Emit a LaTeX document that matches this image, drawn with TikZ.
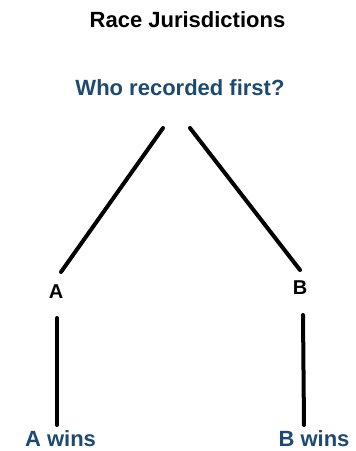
\documentclass[tikz,border=0pt]{standalone}
\usepackage{fontspec}
\setmainfont{Liberation Sans}
\definecolor{navy}{HTML}{1F4A6E}
\begin{document}
\begin{tikzpicture}[x=1pt,y=-1pt,
  lbl/.style={anchor=base,inner sep=0pt,font=\bfseries\fontsize{22}{24}\selectfont},
  blue/.style={lbl,text=navy},
  conn/.style={line width=4pt,line cap=round,black}]
\useasboundingbox (0,0) rectangle (356,451);
\node[lbl] (title) at (187.5,27) {Race Jurisdictions};
\node[blue] (who) at (180,95) {Who recorded first?};
\node[lbl,font=\bfseries\fontsize{20}{22}\selectfont] (A) at (56,298) {A};
\node[lbl,font=\bfseries\fontsize{20}{22}\selectfont] (B) at (300,294) {B};
\node[blue] (awins) at (60.5,446) {A wins};
\node[blue] (bwins) at (314,446) {B wins};
\coordinate (wl) at (163,128);
\coordinate (wr) at (190,128);
\coordinate (al) at (61,272);
\coordinate (br) at (300,270);
\coordinate (at) at (57,318);
\coordinate (ab) at (57,425);
\coordinate (bt) at (303,315);
\coordinate (bb) at (304,425);
\draw[conn] (wl) -- (al);
\draw[conn] (wr) -- (br);
\draw[conn] (at) -- (ab);
\draw[conn] (bt) -- (bb);
\end{tikzpicture}
\end{document}
